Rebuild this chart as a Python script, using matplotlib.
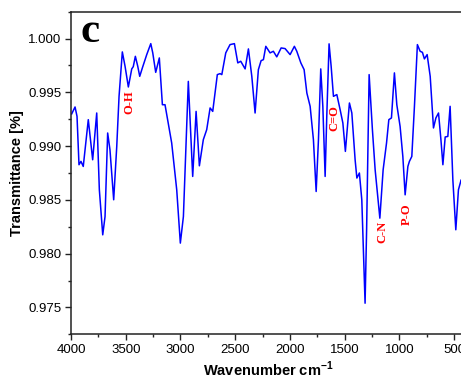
import matplotlib
matplotlib.use("Agg")
import matplotlib.pyplot as plt
from matplotlib.ticker import MultipleLocator

wavenumber = [3994, 3963, 3945, 3927, 3909, 3888, 3842, 3802, 3765, 3741,
              3710, 3689, 3665, 3644, 3610, 3582, 3561, 3531, 3506, 3476,
              3445, 3431, 3412, 3390, 3372, 3348, 3308, 3271, 3253, 3226,
              3193, 3165, 3141, 3080, 3034, 3001, 2973, 2928, 2888, 2857,
              2827, 2791, 2760, 2729, 2705, 2663, 2638, 2622, 2586, 2547,
              2507, 2476, 2449, 2409, 2379, 2348, 2318, 2288, 2263, 2242,
              2220, 2181, 2151, 2120, 2080, 2044, 1998, 1959, 1937, 1900,
              1870, 1845, 1815, 1785, 1760, 1739, 1718, 1699, 1678, 1663,
              1642, 1623, 1602, 1571, 1541, 1516, 1493, 1456, 1434, 1404,
              1388, 1365, 1343, 1326, 1313, 1299, 1276, 1246, 1221, 1206,
              1178, 1148, 1117, 1096, 1072, 1045, 1023, 993, 968, 947,
              922, 908, 886, 862, 835, 810, 789, 771, 746, 718,
              688, 666, 642, 620, 602, 581, 557, 536, 511, 484,
              460, 435, 400]
transmittance = [0.99299, 0.99364, 0.99277, 0.98827, 0.98858, 0.98811, 0.99246, 0.98873, 0.99308, 0.98594,
                 0.98175, 0.98345, 0.99122, 0.98966, 0.98501, 0.98997, 0.99463, 0.99876, 0.99742, 0.99550,
                 0.99718, 0.99739, 0.99835, 0.99742, 0.99649, 0.99727, 0.99851, 0.99953, 0.99867, 0.99686,
                 0.99820, 0.99385, 0.99385, 0.99029, 0.98594, 0.98098, 0.98345, 0.99602, 0.98718, 0.99323,
                 0.98817, 0.99060, 0.99153, 0.99355, 0.99323, 0.99665, 0.99674, 0.99665, 0.99867, 0.99944,
                 0.99953, 0.99774, 0.99789, 0.99718, 0.99904, 0.99649, 0.99308, 0.99711, 0.99795, 0.99804,
                 0.99928, 0.99867, 0.99882, 0.99830, 0.99913, 0.99907, 0.99851, 0.99928, 0.99882, 0.99774,
                 0.99711, 0.99494, 0.99370, 0.99060, 0.98578, 0.99060, 0.99718, 0.99370, 0.98718, 0.99277,
                 0.99951, 0.99742, 0.99463, 0.99479, 0.99339, 0.99215, 0.98951, 0.99401, 0.99308, 0.98873,
                 0.98703, 0.98750, 0.98501, 0.97942, 0.97539, 0.98222, 0.99665, 0.99153, 0.98780, 0.98625,
                 0.98330, 0.98780, 0.99029, 0.99246, 0.99262, 0.99681, 0.99385, 0.99183, 0.98904, 0.98547,
                 0.98811, 0.98858, 0.98904, 0.99370, 0.99944, 0.99882, 0.99872, 0.99811, 0.99851, 0.99649,
                 0.99169, 0.99262, 0.99308, 0.99060, 0.98827, 0.99085, 0.99090, 0.99370, 0.98687, 0.98222,
                 0.98594, 0.98687, 0.98660]

peak_labels = ["O-H", "C=O", "C-N", "P-O"]
peak_label_x = [3470, 1591, 1157, 929]
peak_label_y = [0.99404, 0.99264, 0.98203, 0.98371]

x_ticks = [4000, 3500, 3000, 2500, 2000, 1500, 1000, 500]
y_ticks = [0.975, 0.980, 0.985, 0.990, 0.995, 1.000]

fig = plt.figure(figsize=(4.61, 3.81), dpi=100)
ax = fig.add_axes([71 / 461, (381 - 334.3) / 381, (465 - 71) / 461, (334.3 - 11.7) / 381])

ax.plot(wavenumber, transmittance, color="#0000ff", lw=1.1)

ax.set_xlim(4000, 400)
ax.set_ylim(0.9725, 1.0025)
ax.set_xticks(x_ticks)
ax.set_xticklabels([str(v) for v in x_ticks])
ax.set_yticks(y_ticks)
ax.set_yticklabels([f"{v:.3f}" for v in y_ticks])
ax.xaxis.set_minor_locator(MultipleLocator(250))
ax.yaxis.set_minor_locator(MultipleLocator(0.0025))

ax.tick_params(which="major", direction="out", length=4, width=1, labelsize=9.5,
               colors="#222222", pad=3)
ax.tick_params(which="minor", direction="out", length=2.5, width=1, colors="#222222")
ax.tick_params(top=False, right=False)
for lab in ax.get_xticklabels() + ax.get_yticklabels():
    lab.set_fontfamily("Liberation Sans")
    lab.set_color("black")

for side in ["left", "bottom", "top", "right"]:
    ax.spines[side].set_linewidth(1.1)
    ax.spines[side].set_color("#222222")

ax.set_xlabel("Wavenumber cm$^{\\mathregular{-1}}$", fontsize=10.5, fontweight="bold",
              family="Liberation Sans", labelpad=3)
ax.set_ylabel("Transmittance [%]", fontsize=10.5, fontweight="bold",
              family="Liberation Sans", labelpad=3)

ax.text(0.023, 0.906, "c", transform=ax.transAxes, fontsize=31, fontweight="bold",
        family="Liberation Serif", ha="left", va="baseline")

for lbl, lx, ly in zip(peak_labels, peak_label_x, peak_label_y):
    ax.text(lx, ly, lbl, rotation=90, color="red", fontsize=9, fontweight="bold",
            family="Liberation Serif", ha="center", va="center")

fig.savefig("out.png", dpi=100)
